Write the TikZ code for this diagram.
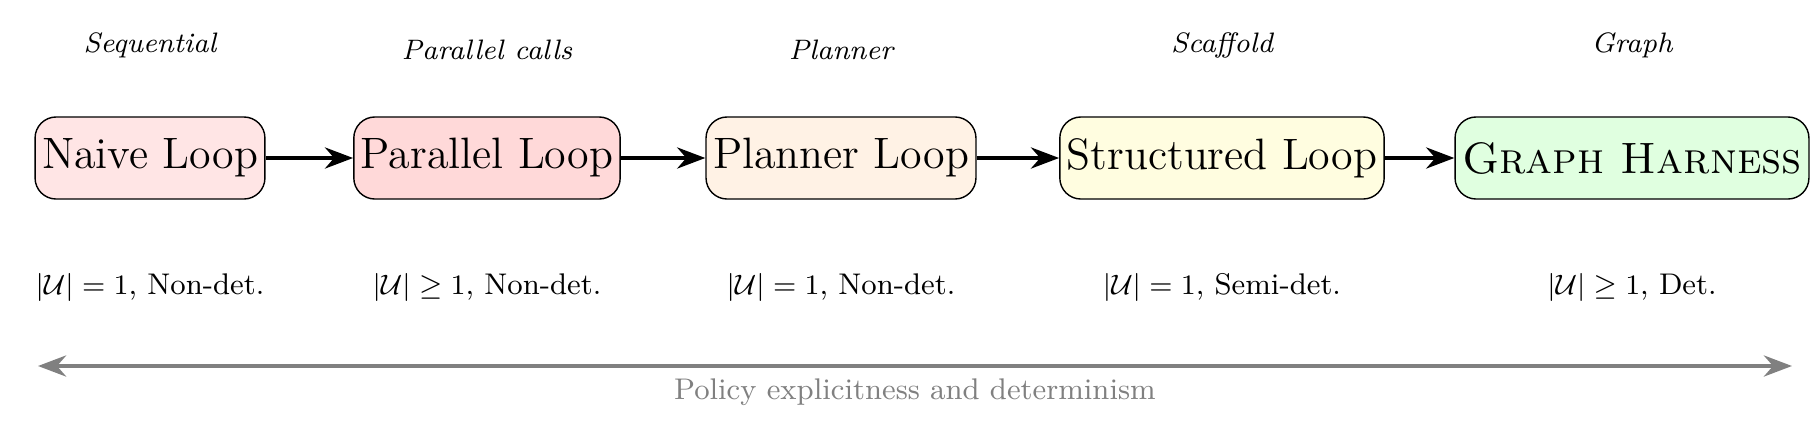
\documentclass[tikz,border=0pt]{standalone}
\usepackage{amsmath,amssymb}
\usetikzlibrary{arrows.meta}
\begin{document}
\begin{tikzpicture}[x=0.01cm,y=-0.01cm,
  box/.style={draw,rounded corners=6pt,minimum height=0.82cm,font=\fontsize{12.5}{14}\selectfont,inner sep=2pt},
  top/.style={font=\fontsize{8}{10}\selectfont\itshape},
  bot/.style={font=\fontsize{8.5}{10}\selectfont},
  conn/.style={-{Stealth[length=8pt]},line width=1.1pt}]
\useasboundingbox (0,0) rectangle (1820,439);
\node[box,fill=red!10,minimum width=2.24cm] (a) at (150,158) {Naive Loop};
\node[box,fill=red!15,minimum width=2.56cm] (b) at (487,158) {Parallel Loop};
\node[box,fill=orange!10,minimum width=2.58cm] (c) at (841,158) {Planner Loop};
\node[box,fill=yellow!12,minimum width=3.08cm] (d) at (1222,158) {Structured Loop};
\node[box,fill=green!12,minimum width=3.20cm] (e) at (1632,158) {\textsc{Graph Harness}};
\draw[conn] (a) -- (b); \draw[conn] (b) -- (c); \draw[conn] (c) -- (d); \draw[conn] (d) -- (e);
\node[top] (ta) at (150,45) {Sequential};
\node[top] (tb) at (487,50) {Parallel calls};
\node[top] (tc) at (841,50) {Planner};
\node[top] (td) at (1222,45) {Scaffold};
\node[top] (te) at (1632,45) {Graph};
\node[bot] (ba) at (150,287) {$|\mathcal{U}|=1$, Non-det.};
\node[bot] (bb) at (487,287) {$|\mathcal{U}|\geq 1$, Non-det.};
\node[bot] (bc) at (841,287) {$|\mathcal{U}|=1$, Non-det.};
\node[bot] (bd) at (1222,287) {$|\mathcal{U}|=1$, Semi-det.};
\node[bot] (be) at (1632,287) {$|\mathcal{U}|\geq 1$, Det.};
\coordinate (l) at (38,366); \coordinate (r) at (1792,366);
\draw[{Stealth[length=8pt]}-{Stealth[length=8pt]},gray,line width=1.1pt] (l) -- (r);
\node[bot,text=gray] (pl) at (915,392) {Policy explicitness and determinism};
\end{tikzpicture}
\end{document}
